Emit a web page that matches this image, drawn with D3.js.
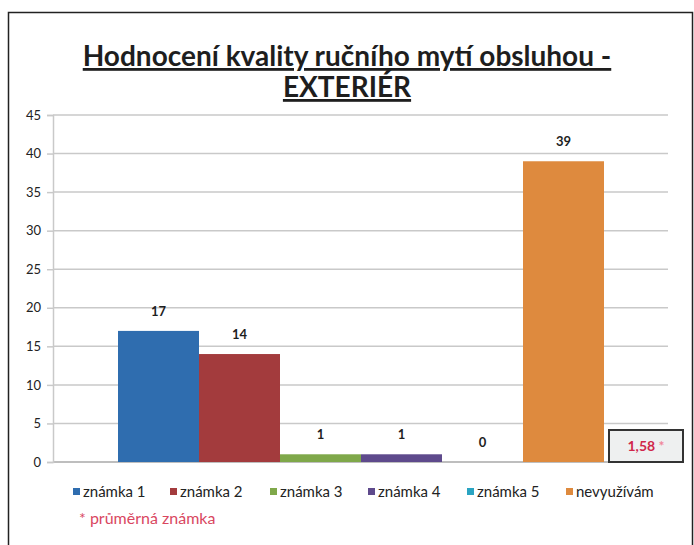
<!DOCTYPE html>
<html>
<head>
<meta charset="utf-8">
<script src="https://cdn.jsdelivr.net/npm/d3@7"></script>
<style>
  html, body { margin: 0; padding: 0; background: #fff; }
  svg { display: block; font-family: Lato, "Open Sans", sans-serif; }
</style>
</head>
<body>
<div id="chart"></div>
<script>
const SERIES = ["známka 1", "známka 2", "známka 3", "známka 4", "známka 5", "nevyužívám"];
const VALUES = [17, 14, 1, 1, 0, 39];
const COLORS = ["#2f6daf", "#a33b3d", "#7fa84a", "#5e4a8c", "#2aa4c2", "#de8a3e"];
const Y_TICKS = [0, 5, 10, 15, 20, 25, 30, 35, 40, 45];
const TITLE = ["Hodnocení kvality ručního mytí obsluhou -", "EXTERIÉR"];
const AVERAGE = "1,58";
const NOTE = "průměrná známka";

const W = 694, H = 545;
const plot = { left: 53, right: 668, top: 115, bottom: 462 };

const svg = d3.select("#chart").append("svg")
    .attr("width", W)
    .attr("height", H);

// frame
svg.append("rect")
    .attr("x", 8.5).attr("y", 12.5)
    .attr("width", 684).attr("height", 560)
    .attr("fill", "none").attr("stroke", "#222").attr("stroke-width", 1.5);

// title
const title = svg.append("text")
    .attr("text-anchor", "middle")
    .attr("font-size", 28)
    .attr("font-weight", "bold")
    .attr("fill", "#1e1e1e")
    .attr("text-decoration", "underline");
TITLE.forEach((t, i) => {
    title.append("tspan").attr("x", 347).attr("y", 66 + i * 31).text(t);
});

const y = d3.scaleLinear()
    .domain([0, 45])
    .range([plot.bottom, plot.top]);

// one category, six series side by side
const x = d3.scaleBand()
    .domain(SERIES)
    .range([118, 604])
    .padding(0);

// gridlines
svg.append("g")
    .selectAll("line")
    .data(Y_TICKS)
    .join("line")
    .attr("x1", plot.left).attr("x2", plot.right)
    .attr("y1", d => y(d)).attr("y2", d => y(d))
    .attr("stroke", d => d === 0 ? "#a8a8a8" : "#c9c9c9")
    .attr("stroke-width", 1.5);

// y axis
const yAxis = svg.append("g")
    .attr("transform", `translate(${plot.left},0)`)
    .call(d3.axisLeft(y).tickValues(Y_TICKS).tickSize(6).tickPadding(6));
yAxis.select(".domain").attr("stroke", "#c9c9c9").attr("stroke-width", 1.5);
yAxis.selectAll(".tick line").attr("stroke", "#c9c9c9").attr("stroke-width", 1.5);
yAxis.selectAll(".tick text")
    .attr("font-family", "Lato, sans-serif")
    .attr("font-size", 13)
    .attr("fill", "#222");

// bars
svg.append("g")
    .selectAll("rect")
    .data(VALUES)
    .join("rect")
    .attr("x", (d, i) => x(SERIES[i]))
    .attr("y", d => y(d))
    .attr("width", x.bandwidth())
    .attr("height", d => y(0) - y(d))
    .attr("fill", (d, i) => COLORS[i]);

// value labels
svg.append("g")
    .selectAll("text")
    .data(VALUES)
    .join("text")
    .attr("x", (d, i) => x(SERIES[i]) + x.bandwidth() / 2)
    .attr("y", d => y(d) - 15)
    .attr("text-anchor", "middle")
    .attr("font-size", 13)
    .attr("font-weight", "bold")
    .attr("fill", "#1e1e1e")
    .text(d => d);

// average box
const box = svg.append("g").attr("transform", "translate(609,430)");
box.append("rect")
    .attr("width", 74).attr("height", 32)
    .attr("fill", "#eef0f0").attr("stroke", "#333").attr("stroke-width", 2);
const boxText = box.append("text")
    .attr("x", 37).attr("y", 21)
    .attr("text-anchor", "middle")
    .attr("font-size", 14)
    .attr("font-weight", "bold");
boxText.append("tspan").attr("fill", "#d0274a").text(AVERAGE + " ");
boxText.append("tspan").attr("fill", "#f0879a").text("*");

// legend
const legend = svg.append("g").attr("transform", "translate(0,492)");
const LEGEND_X = [73, 170, 270, 368, 467, 566];
const item = legend.selectAll("g")
    .data(SERIES)
    .join("g")
    .attr("transform", (d, i) => `translate(${LEGEND_X[i]},0)`);
item.append("rect")
    .attr("x", 0).attr("y", -4)
    .attr("width", 7).attr("height", 7)
    .attr("fill", (d, i) => COLORS[i]);
item.append("text")
    .attr("x", 10).attr("y", 5)
    .attr("font-size", 15)
    .attr("fill", "#222")
    .text(d => d);

svg.append("text")
    .attr("x", 79).attr("y", 524)
    .attr("font-size", 16)
    .attr("fill", "#d9475f")
    .text("* " + NOTE);
</script>
</body>
</html>
